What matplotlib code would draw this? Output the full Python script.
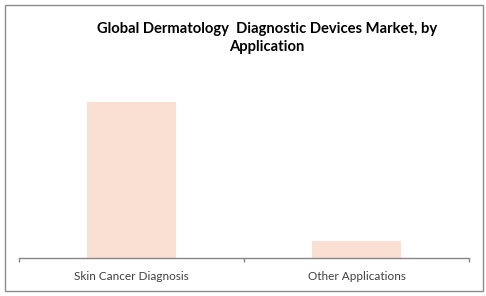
import matplotlib
matplotlib.use('Agg')
import matplotlib.pyplot as plt
from matplotlib.patches import Rectangle

# Chart data (relative share)
categories = ['Skin Cancer Diagnosis', 'Other Applications']
values = [87.6, 9.6]
title = 'Global Dermatology  Diagnostic Devices Market, by\nApplication'

fig = plt.figure(figsize=(4.86, 2.96), dpi=100)
fig.patch.set_facecolor('white')

# outer frame around the whole chart
fig.patches.append(Rectangle((5 / 486, 5 / 296), 478 / 486, 286 / 296,
                             transform=fig.transFigure, fill=False,
                             edgecolor='#8c8c8c', linewidth=1.0))

ax = fig.add_axes([19 / 486, 1 - 258 / 296, 450 / 486, 178 / 296])
ax.bar(range(len(categories)), values, width=0.396, color='#fadfd3')
ax.set_xlim(-0.5, 1.5)
ax.set_ylim(0, 100)

# only the category axis is visible
for side in ['top', 'right', 'left']:
    ax.spines[side].set_visible(False)
ax.spines['bottom'].set_color('#868686')
ax.spines['bottom'].set_linewidth(1.0)
ax.set_yticks([])
ax.set_xticks([-0.5, 0.5, 1.5])
ax.set_xticklabels([])
ax.set_xticks(range(len(categories)), minor=True)
ax.set_xticklabels(categories, minor=True, fontsize=8.5, color='#404040',
                   family='Lato')
ax.tick_params(axis='x', which='major', length=3, color='#868686', width=1)
ax.tick_params(axis='x', which='minor', length=0, pad=9)

fig.text(267 / 486, 1 - 38 / 296, title, ha='center', va='center',
         fontsize=10.6, fontweight='bold', family='Lato', linespacing=1.3)

fig.savefig('out.png', dpi=100)
